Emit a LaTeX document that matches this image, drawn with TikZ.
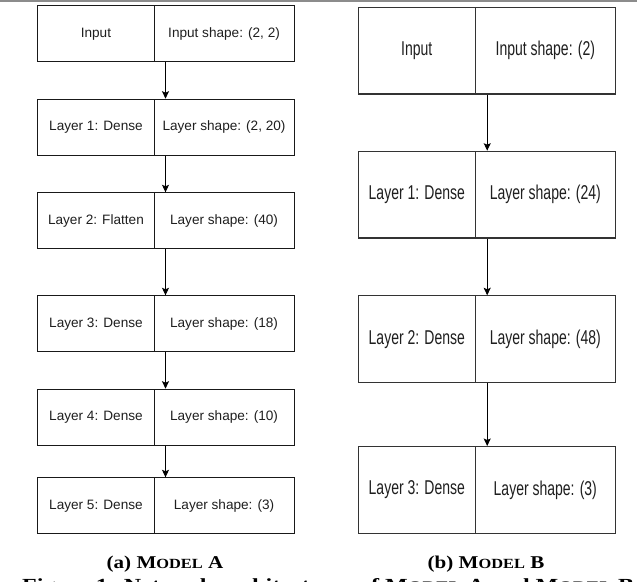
\documentclass[tikz,border=0pt]{standalone}
\usepackage{fontspec}
\usepackage{graphicx}
\setmainfont{Liberation Serif}
\newfontfamily\boxfont{Liberation Sans}
\newfontfamily\condfont[FakeStretch=0.7]{Liberation Sans}
\usetikzlibrary{arrows.meta}
\newcommand{\smc}[1]{{\fontsize{14}{16}\selectfont #1}}
\newcommand{\smcb}[1]{{\fontsize{15}{17}\selectfont #1}}
\begin{document}
\begin{tikzpicture}[x=1pt,y=-1pt,
  cellA/.style={draw=black!90, line width=0.9pt, minimum height=56pt, inner sep=0pt,
    anchor=north west, font=\boxfont\fontsize{13.6}{16}\selectfont, text=black!88},
  cellB/.style={draw=black!80, line width=1.1pt, minimum height=86.7pt, inner sep=0pt,
    anchor=north west, font=\condfont\fontsize{20}{24}\selectfont, text=black!88},
  arr/.style={-{Stealth[length=7.5pt,width=7pt,inset=1.5pt]}, line width=0.9pt, black},
  subcap/.style={anchor=base, inner sep=0pt, font=\bfseries\fontsize{18}{20}\selectfont}]
\useasboundingbox (0,0) rectangle (637,581);
\clip (0,0) rectangle (637,581);
\fill[white] (0,0) rectangle (637,581);
% top rule
\draw[black!45, line width=1.5pt] (0,0.8) -- (637,0.8);
% ---------- Model A ----------
\foreach \n/\t/\l/\r in {1/5.3/Input/{Input shape: (2, 2)},
                         2/98.7/{Layer 1: Dense}/{Layer shape: (2, 20)},
                         3/192.3/{Layer 2: Flatten}/{Layer shape: (40)},
                         4/295.3/{Layer 3: Dense}/{Layer shape: (18)},
                         5/388.7/{Layer 4: Dense}/{Layer shape: (10)},
                         6/477.3/{Layer 5: Dense}/{Layer shape: (3)}}{
  \node[cellA, minimum width=116.4pt] (a\n l) at (37.3,\t) {\l};
  \node[cellA, minimum width=139.8pt] (a\n r) at (153.7,\t) {\r};
}
\coordinate (xA) at (165.5,0);
\foreach \i/\j in {1/2,2/3,3/4,4/5,5/6}{
  \draw[arr] (a\i r.south -| xA) -- (a\j r.north -| xA);
}
% ---------- Model B ----------
\foreach \n/\t/\l/\r in {1/6.7/Input/{Input shape: (2)},
                         2/150.7/{Layer 1: Dense}/{Layer shape: (24)},
                         3/295.3/{Layer 2: Dense}/{Layer shape: (48)},
                         4/446/{Layer 3: Dense}/{Layer shape: (3)}}{
  \node[cellB, minimum width=117.5pt] (b\n l) at (357.5,\t) {\l};
  \node[cellB, minimum width=139.5pt] (b\n r) at (475,\t) {\r};
}
\coordinate (xB) at (487.2,0);
\foreach \i/\j in {1/2,2/3,3/4}{
  \draw[arr] (b\i r.south -| xB) -- (b\j r.north -| xB);
}
% ---------- captions ----------
\node[subcap] (capA) at (165,568.3) {\scalebox{1.17}[1]{(a) M\smc{ODEL} A}};
\node[subcap] (capB) at (486,568.3) {\scalebox{1.17}[1]{(b) M\smc{ODEL} B}};
\node[anchor=base west, inner sep=0pt] (fig) at (22,591)
  {\resizebox{612pt}{13pt}{\bfseries\fontsize{19}{21}\selectfont Figure 1: Network architectures of M\smcb{ODEL} A and M\smcb{ODEL} B}};
\end{tikzpicture}
\end{document}
